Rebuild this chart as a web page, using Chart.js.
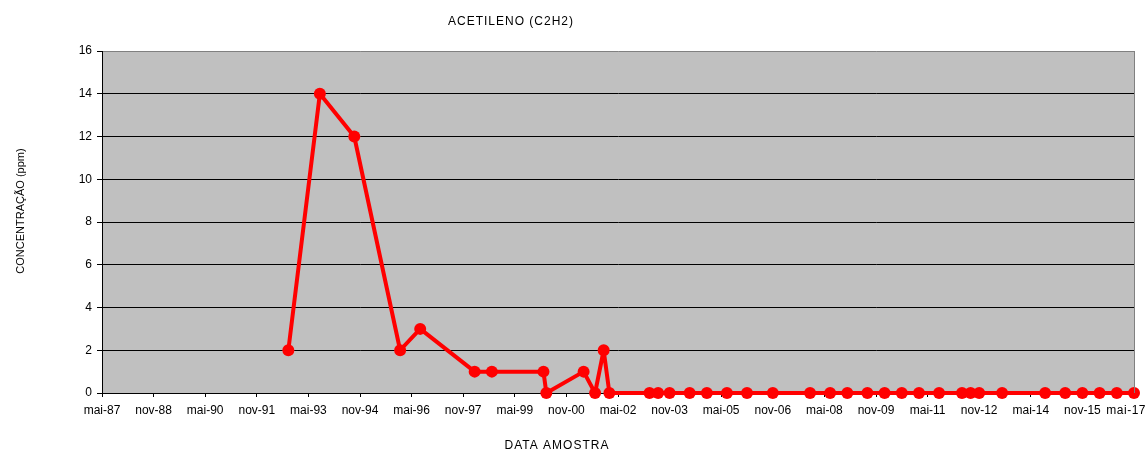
<!DOCTYPE html>
<html>
<head>
<meta charset="utf-8">
<title>ACETILENO (C2H2)</title>
<script src="https://cdn.jsdelivr.net/npm/chart.js@4/dist/chart.umd.min.js"></script>
<style>
  html, body { margin: 0; padding: 0; background: #ffffff; }
  #chart { display: block; }
</style>
</head>
<body>
<canvas id="chart" width="1147" height="452"></canvas>
<script>
// Axis tick labels (every 18 months, starting May 1987)
const tickLabels = ['mai-87', 'nov-88', 'mai-90', 'nov-91', 'mai-93', 'nov-94', 'mai-96',
  'nov-97', 'mai-99', 'nov-00', 'mai-02', 'nov-03', 'mai-05', 'nov-06', 'mai-08',
  'nov-09', 'mai-11', 'nov-12', 'mai-14', 'nov-15', 'mai-17'];

// Sample dates (year-month)
const sampleDates = ['1992-10', '1993-09', '1994-09', '1996-01', '1996-08', '1998-03',
  '1998-09', '2000-03', '2000-04', '2001-05', '2001-09', '2001-12', '2002-02',
  '2003-04', '2003-07', '2003-11', '2004-06', '2004-12', '2005-07', '2006-02',
  '2006-11', '2007-12', '2008-07', '2009-01', '2009-08', '2010-02', '2010-08',
  '2011-02', '2011-09', '2012-05', '2012-08', '2012-11', '2013-07', '2014-10',
  '2015-05', '2015-11', '2016-05', '2016-11', '2017-05'];

// Acetylene concentration (ppm)
const concentrations = [2, 14, 12, 2, 3, 1, 1, 1, 0, 1, 0, 2, 0,
  0, 0, 0, 0, 0, 0, 0, 0, 0, 0, 0, 0, 0, 0, 0, 0, 0, 0, 0, 0, 0, 0, 0, 0, 0, 0];

const yTicks = [0, 2, 4, 6, 8, 10, 12, 14, 16];

const chartTitle = 'ACETILENO (C2H2)';
const xTitle = 'DATA AMOSTRA';
const yTitle = 'CONCENTRAÇÃO (ppm)';

// months elapsed since May 1987 (origin of the x axis)
function monthIndex(s) {
  const [y, m] = s.split('-').map(Number);
  return (y - 1987) * 12 + (m - 1) - 4;
}
const points = sampleDates.map((d, i) => ({ x: monthIndex(d), y: concentrations[i] }));
const X_MAX = (tickLabels.length - 1) * 18;

const FONT = 'Liberation Sans, Arial, sans-serif';
const TICK_FONT_SIZE = 12;
const X_TICK_LEN = 4;
const X_TICK_PAD = 6;

const decor = {
  id: 'decor',
  beforeInit(chart) { chart.ctx.letterSpacing = '0.5px'; },
  beforeDraw(chart) {
    const { ctx, chartArea: a } = chart;
    ctx.save();
    ctx.fillStyle = '#C0C0C0';
    ctx.fillRect(a.left, a.top, a.right - a.left, a.bottom - a.top);
    ctx.restore();
  },
  afterDraw(chart) {
    const { ctx, chartArea: a } = chart;
    ctx.save();
    // right frame edge
    ctx.strokeStyle = '#808080';
    ctx.lineWidth = 1;
    ctx.beginPath();
    ctx.moveTo(a.right + 0.5, a.top);
    ctx.lineTo(a.right + 0.5, a.bottom);
    ctx.stroke();

    ctx.fillStyle = '#000';
    ctx.textAlign = 'center';
    ctx.textBaseline = 'middle';
    ctx.letterSpacing = '1px';
    ctx.font = '12px ' + FONT;
    ctx.fillText(chartTitle, 511, 22);
    ctx.fillText(xTitle, 557, 446);

    ctx.save();
    ctx.letterSpacing = '0px';
    ctx.font = '11px ' + FONT;
    ctx.translate(21, 211);
    ctx.rotate(-Math.PI / 2);
    ctx.fillText(yTitle, 0, 0);
    ctx.restore();

    // last x label, kept inside the canvas edge, on the same line as the others
    ctx.letterSpacing = '0.5px';
    ctx.font = TICK_FONT_SIZE + 'px ' + FONT;
    ctx.textAlign = 'right';
    ctx.textBaseline = 'middle';
    ctx.fillText(tickLabels[tickLabels.length - 1], 1146,
      a.bottom + X_TICK_LEN + X_TICK_PAD + TICK_FONT_SIZE * 0.6);
    ctx.restore();
  }
};

new Chart(document.getElementById('chart'), {
  type: 'line',
  data: {
    datasets: [{
      data: points,
      borderColor: '#FF0000',
      backgroundColor: '#FF0000',
      borderWidth: 4,
      borderJoinStyle: 'round',
      pointRadius: 6,
      pointBorderWidth: 0,
      pointBackgroundColor: '#FF0000',
      tension: 0,
      clip: false
    }]
  },
  options: {
    responsive: false,
    animation: false,
    devicePixelRatio: 1,
    layout: { padding: { top: 51, right: 13, bottom: 0, left: 0 } },
    plugins: {
      legend: { display: false },
      title: { display: false },
      tooltip: { enabled: false }
    },
    scales: {
      x: {
        type: 'linear',
        min: 0,
        max: X_MAX,
        afterBuildTicks(scale) {
          scale.ticks = tickLabels.map((_, i) => ({ value: i * 18 }));
        },
        afterFit(scale) {
          scale.height = 59;
          scale.paddingLeft = 0;
          scale.paddingRight = 0;
        },
        ticks: {
          autoSkip: false,
          maxRotation: 0,
          minRotation: 0,
          padding: X_TICK_PAD,
          color: '#000',
          font: { family: FONT, size: TICK_FONT_SIZE },
          callback: (v, i) => (i === tickLabels.length - 1 ? '' : tickLabels[i])
        },
        grid: {
          drawOnChartArea: false,
          drawTicks: true,
          tickLength: X_TICK_LEN,
          tickColor: '#000',
          color: '#000'
        },
        border: { display: true, color: '#000', width: 1 }
      },
      y: {
        min: 0,
        max: 16,
        afterBuildTicks(scale) {
          scale.ticks = yTicks.map(v => ({ value: v }));
        },
        afterFit(scale) {
          scale.width = 102;
          scale.paddingTop = 0;
          scale.paddingBottom = 0;
        },
        ticks: {
          padding: 5,
          color: '#000',
          font: { family: FONT, size: TICK_FONT_SIZE }
        },
        grid: {
          drawTicks: true,
          tickLength: 5,
          tickColor: '#000',
          color: ctx => (ctx.tick && ctx.tick.value === 16 ? '#808080' : '#000'),
          lineWidth: 1
        },
        border: { display: true, color: '#000', width: 1 }
      }
    }
  },
  plugins: [decor]
});
</script>
</body>
</html>
